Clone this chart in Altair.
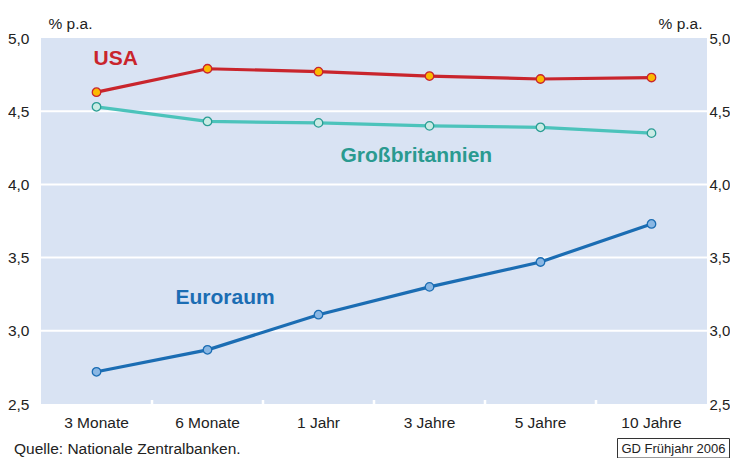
import altair as alt
import pandas as pd

categories = ["3 Monate", "6 Monate", "1 Jahr", "3 Jahre", "5 Jahre", "10 Jahre"]
usa = [4.63, 4.79, 4.77, 4.74, 4.72, 4.73]
gb = [4.53, 4.43, 4.42, 4.40, 4.39, 4.35]
euro = [2.72, 2.87, 3.11, 3.30, 3.47, 3.73]
y_ticks = [2.5, 3.0, 3.5, 4.0, 4.5, 5.0]

series_names = ["USA", "Großbritannien", "Euroraum"]
label_cat = ["3 Monate", "1 Jahr", "6 Monate"]
label_val = [4.816, 4.155, 3.183]
label_dx = [-3, 22, -32]

line_col = {"USA": "#c9252c", "Großbritannien": "#4cc3bb", "Euroraum": "#1b6db3"}
fill_col = {"USA": "#fbb900", "Großbritannien": "#c9ebe5", "Euroraum": "#8ab7e3"}
stroke_col = {"USA": "#c9252c", "Großbritannien": "#2a9d94", "Euroraum": "#1b6db3"}
text_col = {"USA": "#c9252c", "Großbritannien": "#2a9a90", "Euroraum": "#1b6db3"}

FONT = "Liberation Sans"
xscale = alt.Scale(type="band", domain=categories, paddingInner=0, paddingOuter=0)
xaxis = alt.Axis(title=None, ticks=False, domain=False, labelFontSize=15.5,
                 labelColor="#222222", labelPadding=11, labelFont=FONT, labelAngle=0)
yscale = alt.Scale(domain=[2.5, 5.0], nice=False, zero=False)

def X(bp=0.5):
    return alt.X("cat:N", scale=xscale, axis=xaxis, sort=categories, bandPosition=bp)

grid_df = pd.DataFrame({"v": y_ticks[1:-1]})
grid = alt.Chart(grid_df).mark_rule(color="white", strokeWidth=2).encode(
    y=alt.Y("v:Q", scale=yscale,
            axis=alt.Axis(orient="left", values=y_ticks, grid=False, ticks=False, domain=False,
                          labelExpr="replace(format(datum.value, '.1f'), '.', ',')",
                          labelFontSize=15.5, labelColor="#222222", labelPadding=12, labelFont=FONT,
                          title="% p.a.", titleAngle=0, titleX=7, titleY=-10, titleAlign="left",
                          titleBaseline="alphabetic", titleFontSize=15.5, titleFontWeight="normal",
                          titleColor="#222222", titleFont=FONT))
)

right = alt.Chart(grid_df).mark_rule(opacity=0).encode(
    y=alt.Y("v:Q", scale=yscale,
            axis=alt.Axis(orient="right", values=y_ticks, grid=False, ticks=False, domain=False,
                          labelExpr="replace(format(datum.value, '.1f'), '.', ',')",
                          labelFontSize=15, labelColor="#222222", labelPadding=2, labelFont=FONT,
                          title="% p.a.", titleAngle=0, titleX=-5, titleY=-10, titleAlign="right",
                          titleBaseline="alphabetic", titleFontSize=15.5, titleFontWeight="normal",
                          titleColor="#222222", titleFont=FONT))
)

tick_df = pd.DataFrame({"cat": categories[1:]})
xticks = alt.Chart(tick_df).mark_rule(color="white", strokeWidth=2.5).encode(
    x=X(0), y=alt.value(362), y2=alt.value(366)
)

layers = [grid, right, xticks]
for name, vals in zip(series_names, [usa, gb, euro]):
    df = pd.DataFrame({"cat": categories, "v": vals})
    layers.append(alt.Chart(df).mark_line(color=line_col[name], strokeWidth=3.2).encode(
        x=X(), y=alt.Y("v:Q", scale=yscale, axis=None)))
for name, vals in zip(series_names, [usa, gb, euro]):
    df = pd.DataFrame({"cat": categories, "v": vals})
    layers.append(alt.Chart(df).mark_point(filled=True, fill=fill_col[name], stroke=stroke_col[name],
                                           strokeWidth=1.3, size=72, opacity=1, shape="circle").encode(
        x=X(), y=alt.Y("v:Q", scale=yscale, axis=None)))
for name, c, v, dx in zip(series_names, label_cat, label_val, label_dx):
    df = pd.DataFrame({"cat": [c], "v": [v], "t": [name]})
    layers.append(alt.Chart(df).mark_text(align="left", baseline="alphabetic", dx=dx, fontSize=21,
                                          fontWeight="bold", font=FONT, color=text_col[name]).encode(
        x=X(), y=alt.Y("v:Q", scale=yscale, axis=None), text="t:N"))

notes_df = pd.DataFrame({"t": ["Quelle: Nationale Zentralbanken."]})
source = alt.Chart(notes_df).mark_text(align="left", baseline="alphabetic", fontSize=15.5, font=FONT,
                                        color="#222222").encode(
    x=alt.value(-27), y=alt.value(416), text="t:N")

box = alt.Chart(pd.DataFrame({"a": [1]})).mark_rect(fill="white", stroke="#333333", strokeWidth=1).encode(
    x=alt.value(576.5), x2=alt.value(688.5), y=alt.value(400.5), y2=alt.value(420))
stamp = alt.Chart(pd.DataFrame({"t": ["GD Frühjahr 2006"]})).mark_text(
    align="center", baseline="alphabetic", fontSize=13, font=FONT, color="#222222").encode(
    x=alt.value(632.5), y=alt.value(415), text="t:N")

chart = alt.layer(*layers, source, box, stamp).resolve_axis(y="independent").properties(
    width=666, height=366,
    autosize=alt.AutoSizeParams(type="none"),
    padding={"left": 33, "top": 30, "right": 23, "bottom": 54},
    background="white",
).configure_view(fill="#d9e3f3", stroke=None)

chart.save("out.html", embed_options={"renderer": "svg", "actions": False})
